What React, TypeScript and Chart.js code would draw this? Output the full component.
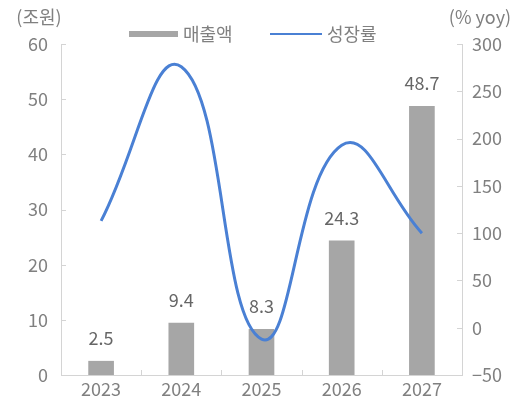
import React, { useEffect, useRef } from "react";
import { Chart, registerables } from "chart.js";

Chart.register(...registerables);

const categories = ["2023", "2024", "2025", "2026", "2027"];
const revenue = [2.5, 9.4, 8.3, 24.3, 48.7];
const growth = [113, 276, -12, 193, 100];
const revenueLabel = "매출액";
const growthLabel = "성장률";
const leftTitle = "(조원)";
const rightTitle = "(% yoy)";

const FONT = '"Noto Sans CJK KR", "Noto Sans", sans-serif';
const TICK_COLOR = "#808080";
const AXIS_COLOR = "#d4d4d4";
const BAR_COLOR = "#a6a6a6";
const LINE_COLOR = "#4a80d4";

const extrasPlugin = {
  id: "extras",
  afterDraw(chart: any) {
    const ctx = chart.ctx;
    const area = chart.chartArea;
    const x = chart.scales.x;
    const yL = chart.scales.y;
    const yR = chart.scales.y1;
    ctx.save();
    // inward ticks
    ctx.strokeStyle = AXIS_COLOR;
    ctx.lineWidth = 1;
    ctx.beginPath();
    yL.ticks.forEach((t: any) => {
      const py = Math.round(yL.getPixelForValue(t.value)) + 0.5;
      ctx.moveTo(area.left, py);
      ctx.lineTo(area.left + 5, py);
    });
    yR.ticks.forEach((t: any) => {
      const py = Math.round(yR.getPixelForValue(t.value)) + 0.5;
      ctx.moveTo(area.right, py);
      ctx.lineTo(area.right - 5, py);
    });
    for (let i = 1; i < categories.length; i++) {
      const px = Math.round((x.getPixelForValue(i - 1) + x.getPixelForValue(i)) / 2) + 0.5;
      ctx.moveTo(px, area.bottom);
      ctx.lineTo(px, area.bottom - 5);
    }
    ctx.stroke();

    // data labels
    ctx.font = `18px ${FONT}`;
    ctx.fillStyle = "#666666";
    ctx.textAlign = "center";
    ctx.textBaseline = "bottom";
    const meta = chart.getDatasetMeta(0);
    meta.data.forEach((el: any, i: number) => {
      ctx.fillText(revenue[i].toFixed(1), el.x, el.y - 14);
    });

    // axis titles
    ctx.fillStyle = TICK_COLOR;
    ctx.textBaseline = "middle";
    ctx.textAlign = "center";
    ctx.fillText(leftTitle, 39, 17);
    ctx.fillText(rightTitle, 480, 17);

    // legend
    const ly = 34;
    ctx.fillStyle = BAR_COLOR;
    ctx.fillRect(129, ly - 3, 49, 6);
    ctx.fillStyle = TICK_COLOR;
    ctx.textAlign = "left";
    ctx.fillText(chart.data.datasets[0].label, 183, ly);
    ctx.strokeStyle = LINE_COLOR;
    ctx.lineWidth = 2;
    ctx.beginPath();
    ctx.moveTo(270, ly);
    ctx.lineTo(322, ly);
    ctx.stroke();
    ctx.fillText(chart.data.datasets[1].label, 327, ly);
    ctx.restore();
  },
};

export default function App() {
  const ref = useRef<HTMLCanvasElement>(null);
  useEffect(() => {
    if (!ref.current) return;
    const chart = new Chart(ref.current, {
      type: "bar",
      data: {
        labels: categories,
        datasets: [
          {
            type: "bar",
            label: revenueLabel,
            data: revenue,
            backgroundColor: BAR_COLOR,
            barThickness: 25,
            yAxisID: "y",
            order: 2,
          },
          {
            type: "line",
            label: growthLabel,
            data: growth,
            borderColor: LINE_COLOR,
            borderWidth: 3,
            pointRadius: 0,
            tension: 0.45,
            yAxisID: "y1",
            order: 1,
          },
        ] as any,
      },
      options: {
        responsive: false,
        animation: false,
        layout: { padding: { top: 44, left: 0, right: 0, bottom: 0 } },
        plugins: { legend: { display: false }, tooltip: { enabled: false } },
        scales: {
          x: {
            offset: true,
            grid: { display: false, drawTicks: false },
            border: { color: AXIS_COLOR },
            ticks: { color: TICK_COLOR, font: { family: FONT, size: 18 }, padding: 3 },
            afterFit: (s: any) => { s.height = 32; },
          },
          y: {
            position: "left",
            min: 0,
            max: 60,
            grid: { display: false, drawTicks: false },
            border: { color: AXIS_COLOR },
            ticks: { stepSize: 10, color: TICK_COLOR, font: { family: FONT, size: 18 }, padding: 13 },
            afterFit: (s: any) => { s.width = 61; },
          },
          y1: {
            position: "right",
            min: -50,
            max: 300,
            grid: { display: false, drawTicks: false },
            border: { color: AXIS_COLOR },
            ticks: {
              stepSize: 50,
              color: TICK_COLOR,
              font: { family: FONT, size: 18 },
              padding: 10,
              callback: (v: any) => (Number(v) < 0 ? "\u2212" + Math.abs(Number(v)) : String(v)),
            },
            afterFit: (s: any) => { s.width = 63; },
          },
        },
      } as any,
      plugins: [extrasPlugin],
    });
    return () => chart.destroy();
  }, []);
  return (
    <div style={{ position: "fixed", left: 0, top: 0, width: 525, height: 407, background: "#fff" }}>
      <canvas ref={ref} width={525} height={407} style={{ width: 525, height: 407 }} />
    </div>
  );
}
